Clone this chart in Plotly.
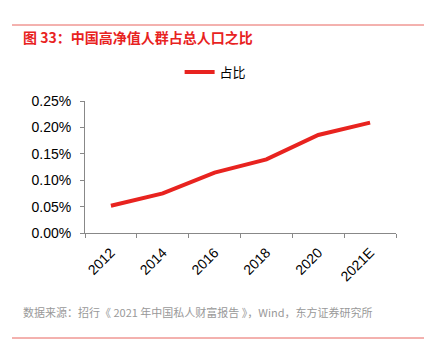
import plotly.graph_objects as go

categories = ["2012", "2014", "2016", "2018", "2020", "2021E"]
share = [0.0517, 0.075, 0.1145, 0.1395, 0.1856, 0.209]
y_ticks = [0, 0.05, 0.10, 0.15, 0.20, 0.25]
y_tick_labels = ["0.00%", "0.05%", "0.10%", "0.15%", "0.20%", "0.25%"]

W, H = 424, 350
L, R, T, B = 85, 396, 101, 233

def px(x):
    return (x - L) / (R - L)

def py(y):
    return (B - y) / (B - T)

RED = "#e8231f"
fig = go.Figure()
fig.add_trace(go.Scatter(
    x=categories, y=share, mode="lines", name="占比",
    line=dict(color=RED, width=4),
))

fig.update_layout(
    width=W, height=H,
    margin=dict(l=L, r=W - R, t=T, b=H - B),
    paper_bgcolor="white", plot_bgcolor="white",
    font=dict(family="Liberation Sans, Noto Sans CJK SC", size=14, color="#000"),
    showlegend=True,
    legend=dict(orientation="h", x=0.42, xanchor="center", y=py(72), yanchor="middle",
                font=dict(size=13, family="Noto Sans CJK SC"), itemwidth=30),
    xaxis=dict(type="category", range=[-0.5, 5.5], tickson="boundaries",
               ticks="outside", ticklen=4,
               tickcolor="#888", showline=True, linecolor="#888", linewidth=1,
               tickangle=-45, showgrid=False, tickfont=dict(size=14),
               ticklabelstandoff=5),
    yaxis=dict(range=[0, 0.25], tickvals=y_ticks, ticktext=y_tick_labels,
               ticks="outside", ticklen=4, tickcolor="#888", showline=True,
               linecolor="#888", linewidth=1, showgrid=False, zeroline=False,
               tickfont=dict(size=14), ticklabelstandoff=6),
    shapes=[
        dict(type="line", xref="paper", yref="paper", x0=px(12), x1=px(424),
             y0=py(25), y1=py(25), line=dict(color="#e8645f", width=1)),
        dict(type="line", xref="paper", yref="paper", x0=px(12), x1=px(424),
             y0=py(338), y1=py(338), line=dict(color="#e8645f", width=1)),
    ],
    annotations=[
        dict(text="<b>图 33：中国高净值人群占总人口之比</b>", xref="paper", yref="paper",
             x=px(21), y=py(37), xanchor="left", yanchor="middle", showarrow=False,
             font=dict(size=14, color=RED, family="Noto Sans CJK SC")),
        dict(text="数据来源：招行《 2021 年中国私人财富报告 》，Wind，东方证券研究所",
             xref="paper", yref="paper", x=px(21), y=py(312), xanchor="left",
             yanchor="middle", showarrow=False,
             font=dict(size=11, color="#999", family="Noto Sans CJK SC")),
    ],
)

fig.write_html("out.html")
